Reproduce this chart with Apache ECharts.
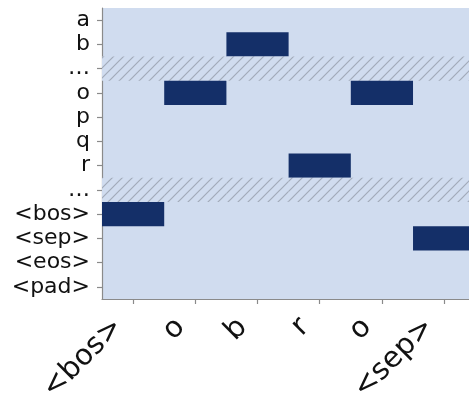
<!DOCTYPE html>
<html>
<head>
<meta charset="utf-8">
<script src="https://cdn.jsdelivr.net/npm/echarts@6/dist/echarts.min.js"></script>
<style>
  html, body { margin: 0; padding: 0; background: #ffffff; }
  #chart { width: 469px; height: 399px; }
</style>
</head>
<body>
<div id="chart"></div>
<script>
// Token sequence along the x axis
const xTokens = ['<bos>', 'o', 'b', 'r', 'o', '<sep>'];
// Vocabulary along the y axis; '…' rows mark skipped entries
const vocab = ['a', 'b', '…', 'o', 'p', 'q', 'r', '…', '<bos>', '<sep>', '<eos>', '<pad>'];
// Vocabulary row that is active (one-hot) for each position
const activeToken = ['<bos>', 'o', 'b', 'r', 'o', '<sep>'];

const SKIP = '…';
// The view stops partway through the last position column
const X_VIEW_MAX = 5.4;

// Diagonal hatch tile for the skipped rows
function hatchTile() {
  const s = 10;
  const c = document.createElement('canvas');
  c.width = s; c.height = s;
  const g = c.getContext('2d');
  g.fillStyle = '#d0dcef';
  g.fillRect(0, 0, s, s);
  g.strokeStyle = '#a2abb9';
  g.lineWidth = 1.2;
  g.beginPath();
  g.moveTo(-1, s + 1); g.lineTo(s + 1, -1);
  g.moveTo(-1, 1); g.lineTo(1, -1);
  g.moveTo(s - 1, s + 1); g.lineTo(s + 1, s - 1);
  g.stroke();
  return c;
}
const hatch = { image: hatchTile(), repeat: 'repeat' };

// Build the cell table: [xIndex, yIndex, kind]
const cells = [];
xTokens.forEach((tok, xi) => {
  vocab.forEach((v, yi) => {
    let kind = 0;
    if (v === SKIP) kind = 2;
    else if (v === activeToken[xi]) kind = 1;
    cells.push([xi, yi, kind]);
  });
});
const positions = xTokens.map((t, i) => i);

const chart = echarts.init(document.getElementById('chart'));
chart.setOption({
  animation: false,
  grid: {
    left: 102, top: 8, right: 0, bottom: 100,
    outerBoundsMode: 'none', containLabel: false,
    show: true, backgroundColor: '#d0dcef', borderWidth: 0
  },
  xAxis: {
    type: 'value',
    min: -0.5,
    max: X_VIEW_MAX,
    axisLine: { show: true, onZero: false, lineStyle: { color: '#8a8a8a', width: 1.2 } },
    axisTick: { show: true, customValues: positions, length: 5, lineStyle: { color: '#8a8a8a', width: 1.2 } },
    axisLabel: {
      customValues: positions,
      formatter: function (v) { return xTokens[Math.round(v)]; },
      rotate: 45, margin: 9, padding: [17, 21, 0, 0],
      fontSize: 29, color: '#111', fontFamily: 'DejaVu Sans'
    },
    splitLine: { show: false }
  },
  yAxis: {
    type: 'category',
    data: vocab,
    inverse: true,
    axisLine: { show: true, onZero: false, lineStyle: { color: '#8a8a8a', width: 1.2 } },
    axisTick: { show: true, alignWithLabel: true, length: 5, lineStyle: { color: '#8a8a8a', width: 1.2 } },
    axisLabel: { interval: 0, margin: 12, fontSize: 22, color: '#111', fontFamily: 'DejaVu Sans' },
    splitLine: { show: false }
  },
  series: [{
    type: 'custom',
    data: cells,
    clip: true,
    renderItem: function (params, api) {
      const kind = api.value(2);
      if (kind === 0) return null;
      const x = api.value(0), y = api.value(1);
      const c = api.coord([x, y]);
      const sz = api.size([1, 1]);
      return {
        type: 'rect',
        shape: { x: c[0] - sz[0] / 2, y: c[1] - sz[1] / 2, width: sz[0], height: sz[1] },
        style: kind === 1 ? { fill: '#142f68' } : { fill: hatch }
      };
    }
  }]
});
</script>
</body>
</html>
